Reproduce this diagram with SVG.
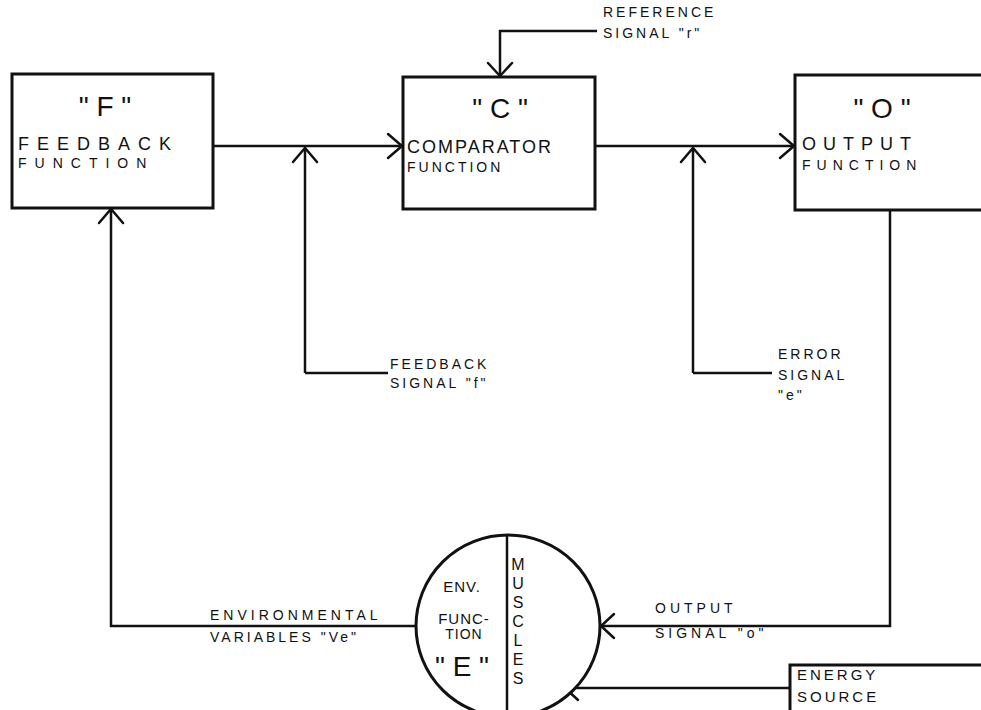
<svg xmlns="http://www.w3.org/2000/svg" width="981" height="710" viewBox="0 0 981 710">
<style>
.box{fill:#fff;stroke:#111;stroke-width:3}
.ln{fill:none;stroke:#111;stroke-width:2.5}
.ah{fill:none;stroke:#111;stroke-width:2.5;stroke-linecap:round}
text{font-family:"Liberation Sans","DejaVu Sans",sans-serif;fill:#111}
.big{font-size:28px}
.t{font-size:18px;letter-spacing:3px}
.s{font-size:14px;letter-spacing:3px}
</style>
<rect width="981" height="710" fill="#fff"/>
<g id="connectors">
  <polyline class="ln" points="213,146 403,146"/>
  <polyline class="ah" points="388,134 402,146 388,158"/>
  <polyline class="ln" points="595,146 795,146"/>
  <polyline class="ah" points="780,134 794,146 780,158"/>
  <polyline class="ln" points="305,373 305,148"/>
  <polyline class="ah" points="293,162 305,148 317,162"/>
  <polyline class="ln" points="305,373 388,373"/>
  <polyline class="ln" points="693,373 693,148"/>
  <polyline class="ah" points="681,162 693,148 705,162"/>
  <polyline class="ln" points="693,373 772,373"/>
  <polyline class="ln" points="597,31 500,31 500,77"/>
  <polyline class="ah" points="488,63 500,76 512,63"/>
  <polyline class="ln" points="890,210 890,626 601,626"/>
  <polyline class="ah" points="614,614 601,626 614,638"/>
  <polyline class="ln" points="790,688 565,688"/>
  <polyline class="ah" points="578,676 565,688 578,700"/>
  <polyline class="ln" points="416,626 111,626 111,209"/>
  <polyline class="ah" points="99,223 111,209 123,223"/>
</g>
<g id="F">
  <rect class="box" x="12" y="74" width="201" height="134"/>
  <text class="big" x="105" y="116" text-anchor="middle">" F "</text>
  <text class="t" x="18" y="150" style="letter-spacing:8px">FEEDBACK</text>
  <text class="s" x="18" y="168" style="letter-spacing:8px">FUNCTION</text>
</g>
<g id="C">
  <rect class="box" x="403" y="77" width="192" height="132"/>
  <text class="big" x="500" y="118" text-anchor="middle">" C "</text>
  <text class="t" x="407" y="153" style="letter-spacing:2px">COMPARATOR</text>
  <text class="s" x="407" y="172" style="letter-spacing:3px">FUNCTION</text>
</g>
<g id="O">
  <rect class="box" x="795" y="75" width="200" height="135"/>
  <text class="big" x="882" y="118" text-anchor="middle">" O "</text>
  <text class="t" x="802" y="150" style="letter-spacing:7px">OUTPUT</text>
  <text class="s" x="802" y="170" style="letter-spacing:6px">FUNCTION</text>
</g>
<g id="E">
  <ellipse cx="508" cy="626" rx="92" ry="91" fill="#fff" stroke="#111" stroke-width="3"/>
  <line x1="507" y1="536" x2="507" y2="716" stroke="#111" stroke-width="2.5"/>
  <text class="s" x="462" y="592" text-anchor="middle" style="letter-spacing:1px;font-size:15px">ENV.</text>
  <text class="s" x="464" y="624" text-anchor="middle" style="letter-spacing:1px;font-size:15px">FUNC-</text>
  <text class="s" x="464" y="639" text-anchor="middle" style="letter-spacing:1px">TION</text>
  <text class="big" x="462" y="676" text-anchor="middle">" E "</text>
  <g font-size="16" text-anchor="middle">
    <text x="518" y="570">M</text>
    <text x="518" y="589">U</text>
    <text x="518" y="608">S</text>
    <text x="518" y="627">C</text>
    <text x="518" y="646">L</text>
    <text x="518" y="665">E</text>
    <text x="518" y="684">S</text>
  </g>
</g>
<g id="energy">
  <rect class="box" x="790" y="665" width="210" height="60"/>
  <text class="s" x="797" y="680" style="font-size:15px">ENERGY</text>
  <text class="s" x="797" y="702" style="font-size:15px">SOURCE</text>
</g>
<g id="labels">
  <text class="s" x="603" y="17">REFERENCE</text>
  <text class="s" x="603" y="38">SIGNAL "r"</text>
  <text class="s" x="390" y="369">FEEDBACK</text>
  <text class="s" x="390" y="388">SIGNAL "f"</text>
  <text class="s" x="778" y="359">ERROR</text>
  <text class="s" x="778" y="380">SIGNAL</text>
  <text class="s" x="778" y="400">"e"</text>
  <text class="s" x="210" y="620" style="letter-spacing:4px">ENVIRONMENTAL</text>
  <text class="s" x="210" y="642" style="letter-spacing:3px">VARIABLES "Ve"</text>
  <text class="s" x="655" y="613" style="letter-spacing:4px">OUTPUT</text>
  <text class="s" x="655" y="638" style="letter-spacing:4px">SIGNAL "o"</text>
</g>
</svg>
